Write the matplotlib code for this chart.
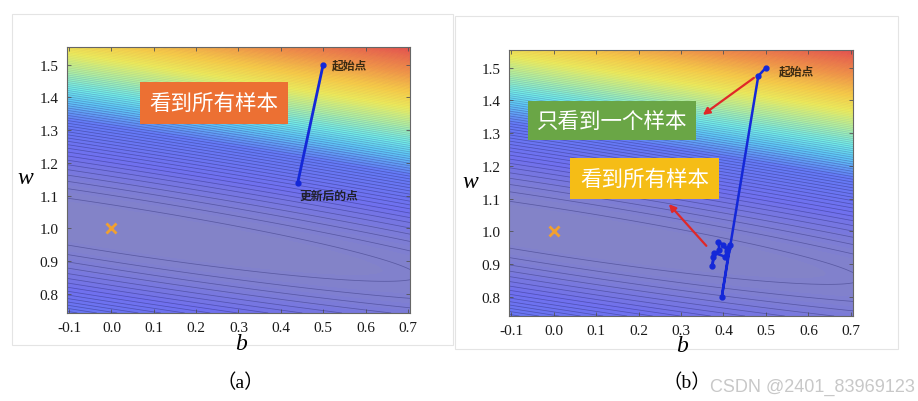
import numpy as np
import matplotlib
matplotlib.use('Agg')
import matplotlib.pyplot as plt
from matplotlib.colors import LinearSegmentedColormap
from matplotlib.patches import Rectangle

# samples of the toy regression problem (loss surface = MSE over them)
x_samples = [1, 2, 3, 4, 5, 6, 7]
y_samples = [1.1, 1.9, 3.0, 4.0, 5.0, 5.9, 7.1]

# true parameters (orange cross)
true_b, true_w = 0.0, 1.0

# (a) one full-batch step
full_b = [0.50, 0.44]
full_w = [1.50, 1.14]

# (b) stochastic steps
sgd_b = [0.50, 0.482, 0.396, 0.415, 0.408, 0.400, 0.388, 0.390, 0.376, 0.374, 0.378, 0.404, 0.410]
sgd_w = [1.50, 1.475, 0.80, 0.960, 0.940, 0.960, 0.967, 0.945, 0.923, 0.894, 0.935, 0.923, 0.950]

x_ticks = [-0.1, 0.0, 0.1, 0.2, 0.3, 0.4, 0.5, 0.6, 0.7]
y_ticks = [0.8, 0.9, 1.0, 1.1, 1.2, 1.3, 1.4, 1.5]

CJK = ['Noto Sans CJK SC', 'DejaVu Sans']
SERIF = ['Liberation Serif', 'Noto Sans CJK SC']

# loss grid
bb, ww = np.meshgrid(np.linspace(-0.105, 0.705, 300), np.linspace(0.742, 1.554, 300))
xs = np.array(x_samples)[:, None, None]
ys = np.array(y_samples)[:, None, None]
loss = np.mean((ww[None] * xs + bb[None] - ys) ** 2, axis=0)

cmap = LinearSegmentedColormap.from_list('soft_jet', [
    (0.00, (132/255, 132/255, 198/255)),
    (0.08, (112/255, 112/255, 238/255)),
    (0.19, (100/255, 122/255, 246/255)),
    (0.27, (95/255, 200/255, 246/255)),
    (0.33, (115/255, 236/255, 232/255)),
    (0.42, (180/255, 240/255, 160/255)),
    (0.52, (238/255, 236/255, 92/255)),
    (0.62, (250/255, 206/255, 72/255)),
    (0.76, (245/255, 150/255, 72/255)),
    (1.00, (232/255, 70/255, 80/255)),
])

line_levels = np.arange(0.11, 12, 0.1)
# contour lines fade out in the upper (bright) part
line_alpha = np.clip(0.45 - (line_levels - 1.6) * 0.12, 0.06, 0.45)
line_colors = [(42/255, 42/255, 112/255, a) for a in line_alpha]

fig = plt.figure(figsize=(9.18, 4.02), dpi=100)
fig.patch.set_facecolor('white')

# card frames
for x0, y0, wd, ht in [(0.013, 0.139, 0.480, 0.823), (0.4956, 0.1294, 0.4826, 0.828)]:
    fig.patches.append(Rectangle((x0, y0), wd, ht, transform=fig.transFigure,
                                 facecolor='white', edgecolor='#e4e4e4', lw=0.8, zorder=-5))

ax_a = fig.add_axes([0.073, 0.219, 0.3736, 0.662])
ax_b = fig.add_axes([0.5545, 0.2114, 0.3747, 0.6617])

for ax in (ax_a, ax_b):
    ax.contourf(bb, ww, loss, levels=np.linspace(0, 10.5, 120), cmap=cmap, vmin=0, vmax=10.2)
    ax.contour(bb, ww, loss, levels=line_levels, colors=line_colors, linewidths=0.55)
    ax.plot(true_b, true_w, marker='x', color='#f0a030', ms=7, mew=2, ls='none', zorder=5)
    ax.set_xlim(-0.105, 0.705)
    ax.set_ylim(0.742, 1.554)
    ax.set_xticks(x_ticks)
    ax.set_yticks(y_ticks)
    ax.set_xticklabels([f'{t:.1f}' for t in x_ticks])
    ax.set_yticklabels([f'{t:.1f}' for t in y_ticks])
    ax.tick_params(direction='in', length=3, width=0.6, color='#555555',
                   top=True, right=True, labelsize=11, labelcolor='#1a1a1a', pad=6)
    for lab in ax.get_xticklabels() + ax.get_yticklabels():
        lab.set_fontfamily(SERIF)
    for sp in ax.spines.values():
        sp.set_color('#666666')
        sp.set_linewidth(0.8)

# panel (a)
ax_a.plot(full_b, full_w, color='#1428d8', lw=2, marker='o', ms=3.5, zorder=6)
ax_a.text(0.52, 1.50, '起始点', family=CJK, fontsize=8.5, weight='bold', color='#3a2a12', va='center')
ax_a.text(0.445, 1.10, '更新后的点', family=CJK, fontsize=8.5, weight='bold', color='#20202a', va='center')
ax_a.text(0.242, 1.383, '看到所有样本', family=CJK, fontsize=15.5, color='white', ha='center', va='center',
          bbox=dict(boxstyle='square,pad=0.45', facecolor='#ec7033', edgecolor='none'), zorder=7)

# panel (b)
ax_b.plot(sgd_b, sgd_w, color='#1428d8', lw=1.8, marker='o', ms=3.5, zorder=6)
ax_b.text(0.53, 1.49, '起始点', family=CJK, fontsize=8.5, weight='bold', color='#3a2a12', va='center')
ax_b.text(0.138, 1.338, '只看到一个样本', family=CJK, fontsize=15.5, color='white', ha='center', va='center',
          bbox=dict(boxstyle='square,pad=0.4', facecolor='#6aa646', edgecolor='none'), zorder=7)
ax_b.text(0.214, 1.161, '看到所有样本', family=CJK, fontsize=15.5, color='white', ha='center', va='center',
          bbox=dict(boxstyle='square,pad=0.45', facecolor='#f5bd16', edgecolor='none'), zorder=7)
for (tb, tw), (hb, hw) in [((0.477, 1.474), (0.346, 1.351)), ((0.364, 0.950), (0.267, 1.090))]:
    ax_b.annotate('', xy=(hb, hw), xytext=(tb, tw),
                  arrowprops=dict(arrowstyle='-|>', color='#e02828', lw=1.6, mutation_scale=10),
                  zorder=8)

# axis letters and captions
fig.text(0.028, 0.557, 'w', family=SERIF, style='italic', fontsize=17, ha='center', va='center')
fig.text(0.2625, 0.144, 'b', family=SERIF, style='italic', fontsize=17, ha='center', va='center')
fig.text(0.512, 0.545, 'w', family=SERIF, style='italic', fontsize=17, ha='center', va='center')
fig.text(0.743, 0.137, 'b', family=SERIF, style='italic', fontsize=17, ha='center', va='center')
fig.text(0.2614, 0.047, '（a）', family=SERIF, fontsize=14, ha='center', va='center')
fig.text(0.748, 0.047, '（b）', family=SERIF, fontsize=14, ha='center', va='center')
fig.text(0.7734, 0.037, 'CSDN @2401_83969123', family=['Liberation Sans'], fontsize=13,
         color='#c8c8c8', ha='left', va='center')

fig.savefig('out.png', dpi=100)
